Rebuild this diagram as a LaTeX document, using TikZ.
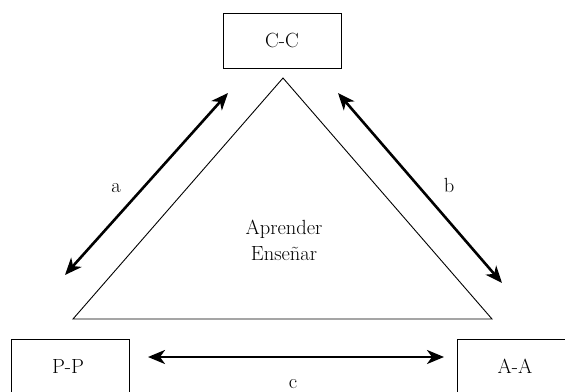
\documentclass[tikz,border=0pt]{standalone}
\usepackage{amssymb,amsmath}
\usepackage{tikz}
\usetikzlibrary{arrows.meta,positioning}

\tikzset{
  caja/.style={draw, line width=1pt, minimum width=118pt, minimum height=55pt, inner sep=0pt},
  flecha/.style={line width=2.6pt, {Stealth[length=17pt,width=14pt,inset=5pt]}-{Stealth[length=17pt,width=14pt,inset=5pt]}},
  lado/.style={line width=0.9pt}
}

\begin{document}
\begin{tikzpicture}[x=1pt,y=-1pt,font=\fontsize{20.5}{24}\selectfont]
\clip (0,0) rectangle (565,391);

% the three corners
\node[caja] (cc) at (282,40.5) {};
\node[caja] (pp) at (70,366.5) {};
\node[caja] (aa) at (516,366.5) {};
\draw (cc.center) node {C-C} ;
\draw (68,366) node {P-P} ;
\draw (515,366) node {A-A} ;

% triangle
\coordinate (top) at (283,78) ;
\coordinate (izq) at (73,319) ;
\coordinate (der) at (492,319) ;
\draw[lado] (top) -- (izq) -- (der) -- cycle ;
\draw (284,229) node (aprender) {Aprender} ;
\draw (284,254) node (ensenar) {Enseñar} ;

% arrows
\coordinate (a1) at (65,275) ;
\coordinate (a2) at (228,93) ;
\coordinate (b1) at (338,93) ;
\coordinate (b2) at (502,283) ;
\coordinate (c1) at (148,357) ;
\coordinate (c2) at (444,357) ;
\draw[flecha] (a1) -- (a2) ;
\draw[flecha] (b1) -- (b2) ;
\draw[flecha] (c1) -- (c2) ;
\draw (116,188) node {a} ;
\draw (449,185) node {b} ;
\draw (293,384) node {c} ;
\end{tikzpicture}
\end{document}
